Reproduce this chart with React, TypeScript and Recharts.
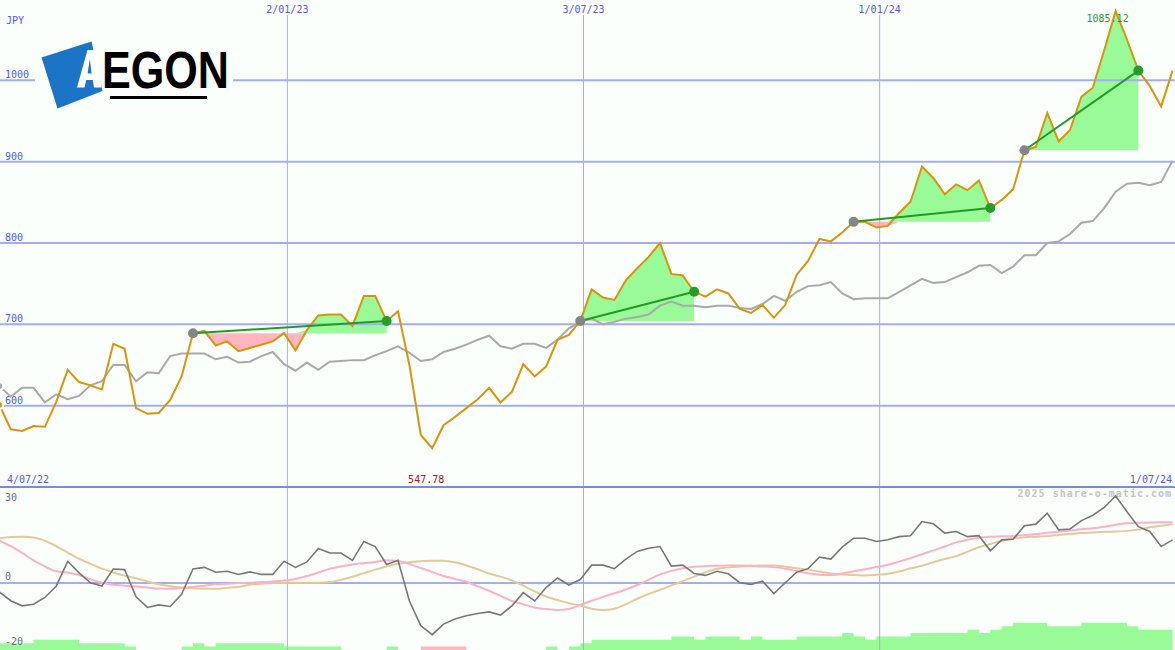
import { ComposedChart, Line, Area, XAxis, YAxis, ReferenceLine, ReferenceDot } from 'recharts';

const W = 1175;
const TOP_H = 487;
const LOW_H = 163;
const BG = '#fbfffb';
const GRID = '#a4acf2';
const LABEL = '#5656f5';
const FONT = '"DejaVu Sans Mono", monospace';

// weekly close, JPY
const PRICE = [
  601, 571, 569, 575, 574, 605, 644, 629, 625, 620,
  676, 670, 597, 590, 591, 607, 636, 689, 692, 674,
  679, 667, 671, 675, 679, 689, 668, 693, 711, 712,
  712, 698, 735, 735, 704, 716, 650, 564, 547.78, 576,
  586, 597, 608, 622, 604, 617, 651, 636, 648, 681,
  687, 704, 743, 733, 730, 754, 769, 783, 800, 762,
  760, 740, 734, 743, 738, 719, 714, 724, 708, 724,
  761, 778, 805, 802, 813, 826, 826, 819, 821, 837,
  851, 894, 880, 860, 872, 865, 877, 843, 853, 866,
  914, 918, 960, 925, 939, 980, 991, 1037, 1085.12, 1050,
  1012, 993, 968, 1012,
];

// market index, rebased to the share price
const BENCH = [
  624, 611, 622, 622, 604, 614, 608, 612, 625, 630,
  650, 650, 630, 641, 640, 661, 664, 664, 664, 657,
  660, 653, 654, 661, 666, 651, 643, 653, 644, 654,
  655, 656, 656, 662, 667, 673, 665, 655, 657, 666,
  670, 675, 681, 686, 673, 670, 676, 676, 671, 681,
  695, 703, 707, 700, 703, 707, 709, 712, 723, 728,
  723, 723, 721, 723, 723, 720, 719, 725, 735, 729,
  740, 747, 748, 752, 738, 731, 732, 732, 732, 740,
  748, 756, 751, 752, 758, 764, 772, 773, 763, 771,
  785, 785, 800, 802, 811, 825, 827, 843, 863, 873,
  874, 871, 875, 901,
];

const MOMENTUM = [
  -2.8, -5.5, -7.1, -6.6, -4.5, -0.9, 6.8, 3.2, 0.1, -0.9,
  4.4, 4.2, -4.3, -7.6, -6.8, -7.3, -3.5, 4.4, 4.9, 3.4,
  3.7, 2.7, 3.5, 2.7, 2.7, 6.8, 4.9, 6.6, 10.8, 9.4,
  9.4, 7.1, 13, 11.4, 5.8, 7.1, -5.6, -13.3, -16.1, -12.8,
  -11.2, -10.2, -9.5, -9, -10, -7.1, -3, -5.6, -1.4, 1.6,
  -0.6, 1.1, 5.6, 5.6, 4.5, 7.5, 9.9, 10.9, 11.4, 5.3,
  5.6, 3, 2.4, 3.7, 2.9, 0.1, -0.4, 0.6, -3.3, 0.1,
  3.4, 4.5, 8.1, 7.5, 11.2, 14, 14, 13, 13.5, 14.5,
  14.8, 19.2, 18.5, 15.6, 16.1, 14.5, 14.8, 10.1, 13.5, 13.7,
  17.9, 18.4, 21.8, 16.6, 16.9, 19.5, 21.2, 23.6, 27.2, 22.3,
  17.6, 16.1, 11.4, 13.5,
];

const AVG_FAST = [
  13.3, 11.5, 9.4, 7.1, 5.2, 3.7, 3.3, 2.5, 1.2, 0.1,
  -0.5, -0.8, -1.1, -1.4, -1.7, -1.8, -1.5, -1.2, -0.8, -0.4,
  -0.2, 0, 0.1, 0.3, 0.5, 0.8, 1.3, 2.2, 3.3, 4.5,
  5.2, 5.8, 6.2, 6.6, 7.1, 6.9, 6, 4.7, 3.5, 2.2,
  1.3, 0.4, -1, -2.4, -4, -5.6, -6.6, -7.6, -8.1, -8.4,
  -8.1, -6.8, -5.5, -4.3, -3.2, -2, -0.6, 1, 2.7, 3.8,
  4.6, 5.1, 5.3, 5.4, 5.5, 5.5, 5.4, 5.2, 5, 4.5,
  3.8, 3.1, 2.6, 2.5, 3, 3.7, 4.3, 5, 5.7, 6.7,
  7.8, 9, 10.2, 11.4, 12.7, 13.5, 14.2, 14.5, 14.6, 14.7,
  15, 15.3, 15.7, 16, 16.4, 16.8, 17.1, 17.6, 18.2, 18.7,
  18.8, 18.9, 19, 19,
];

const AVG_SLOW = [
  14, 14.4, 14.5, 14.2, 13.2, 11.5, 9.5, 7.6, 6, 4.5,
  3.3, 2.3, 1.5, 0.5, -0.4, -1, -1.4, -1.6, -1.8, -1.8,
  -1.5, -1.2, -0.5, -0.2, 0, 0.1, 0.1, 0.1, 0.1, 0.3,
  1, 2, 3.1, 4.2, 5.2, 6, 6.5, 6.8, 7, 7,
  6.5, 5.5, 4.3, 3, 2, 0.8, -0.8, -2.6, -4.2, -5.3,
  -6.3, -7, -8, -8.4, -8, -6.6, -4.9, -3.4, -2.1, -0.7,
  0.6, 2, 3.4, 4.5, 4.9, 5.2, 5.4, 5.5, 5.5, 5.1,
  4.6, 4.2, 3.6, 3, 2.7, 2.5, 2.4, 2.6, 2.9, 3.6,
  4.6, 5.4, 6.5, 7.5, 8.4, 9.8, 11.2, 12.2, 13.2, 14,
  14.3, 14.5, 14.7, 15, 15.3, 15.6, 15.8, 16, 16.1, 16.3,
  16.7, 17.4, 17.9, 18.4,
];

const STRENGTH_UP = [
  2, 2, 2, 3, 3, 3, 3, 2, 2, 2,
  2, 1, 0, 0, 0, 0, 1, 2, 1, 2,
  2, 2, 2, 2, 2, 1, 1, 1, 1, 1,
  0, 0, 0, 0, 1, 0, 0, 0, 0, 0,
  0, 0, 0, 0, 0, 0, 0, 0, 1, 0,
  1, 2, 3, 3, 3, 3, 3, 3, 3, 4,
  4, 3, 4, 4, 4, 3, 4, 3, 3, 3,
  4, 4, 4, 4, 5, 4, 3, 4, 4, 4,
  5, 5, 5, 5, 5, 6, 5, 6, 7, 8,
  8, 8, 7, 7, 7, 8, 8, 8, 8, 7,
  6, 6, 6, 6,
];

const STRENGTH_DOWN = [
  0, 0, 0, 0, 0, 0, 0, 0, 0, 0,
  0, 0, 0, 0, 0, 0, 0, 0, 0, 0,
  0, 0, 0, 0, 0, 0, 0, 0, 0, 0,
  0, 0, 0, 0, 0, 0, 0, 1, 1, 1,
  1, 0, 0, 0, 0, 0, 0, 0, 0, 0,
  0, 0, 0, 0, 0, 0, 0, 0, 0, 0,
  0, 0, 0, 0, 0, 0, 0, 0, 0, 0,
  0, 0, 0, 0, 0, 0, 0, 0, 0, 0,
  0, 0, 0, 0, 0, 0, 0, 0, 0, 0,
  0, 0, 0, 0, 0, 0, 0, 0, 0, 0,
  0, 0, 0, 0,
];

const PRICE_TICKS = [600, 700, 800, 900, 1000];

// days after 4/07/22
const DATE_LINES = [
  { day: 182, label: '2/01/23' },
  { day: 364, label: '3/07/23' },
  { day: 546, label: '1/01/24' },
];

// week indexes of the trend segments
const TRENDS = [
  { from: 17, to: 34 },
  { from: 51, to: 61 },
  { from: 75, to: 87 },
  { from: 90, to: 100 },
];

const FIRST_DAY = 5;
const DAYS = PRICE.map((_, i) => FIRST_DAY + 7 * i);
const X_DOMAIN: [number, number] = [5.4, 727.5];
const Y_TOP: [number, number] = [500, 1098.8];
const Y_LOW: [number, number] = [-20.9, 30];

const topRows = DAYS.map((day, i) => ({ day, price: PRICE[i], bench: BENCH[i] }));
const lowRows = DAYS.map((day, i) => ({
  day,
  mom: MOMENTUM[i],
  fast: AVG_FAST[i],
  slow: AVG_SLOW[i],
  up: STRENGTH_UP[i],
  down: STRENGTH_DOWN[i],
}));

const trendFills = TRENDS.map(({ from, to }) => {
  const base = PRICE[from];
  return DAYS.slice(from, to + 1).map((day, k) => {
    const p = PRICE[from + k];
    return { day, up: [base, Math.max(p, base)], down: [Math.min(p, base), base] };
  });
});

const maxIdx = PRICE.indexOf(Math.max(...PRICE));
const minIdx = PRICE.indexOf(Math.min(...PRICE));

const textStyle = { fontFamily: FONT, fontSize: 10 };

function priceLabel(props: any, v: number) {
  const { x, y } = props.viewBox;
  return (
    <text x={x + 5} y={y - 2} fill={LABEL} style={textStyle}>
      {v}
    </text>
  );
}

function dateLabel(props: any, label: string) {
  const { x } = props.viewBox;
  return (
    <g>
      <rect x={x - 24} y={0} width={48} height={15} fill={BG} />
      <text x={x} y={13} fill={LABEL} textAnchor="middle" style={textStyle}>
        {label}
      </text>
    </g>
  );
}

const dotShape = (color: string) => (p: any) => (
  <circle cx={p.cx} cy={p.cy} r={5} fill={color} fillOpacity={1} stroke="none" />
);

function Logo() {
  return (
    <svg
      width={W}
      height={650}
      style={{ position: 'absolute', left: 0, top: 0, zIndex: 3, pointerEvents: 'none' }}
    >
      <rect x={35} y={36} width={198} height={80} fill={BG} />
      <polygon points="41.5,57.5 91.5,41.5 102.5,91 57.5,108.5" fill="#1b74c5" />
      <path
        d="M77,87.5 L87.5,50 L96,50 L101.5,87.5 L94,87.5 L92.8,80 L86.2,80 L84.6,87.5 Z M87.6,73.5 L91.6,73.5 L89.8,59 Z"
        fill="#ffffff"
        fillRule="evenodd"
      />
      <text
        x={102}
        y={87.5}
        fill="#000000"
        fontFamily="'Liberation Sans', Arial, sans-serif"
        fontWeight="bold"
        fontSize={51}
        textLength={127}
        lengthAdjust="spacingAndGlyphs"
      >
        EGON
      </text>
      <rect x={110} y={96} width={97} height={3} fill="#000000" />
      <text x={5} y={501} fill="#707070" style={textStyle}>30</text>
      <text x={5} y={645} fill="#707070" style={textStyle}>-20</text>
    </svg>
  );
}

function BackTexts() {
  return (
    <svg width={W} height={650} style={{ position: 'absolute', left: 0, top: 0, zIndex: 0 }}>
      <text x={6} y={24} fill={LABEL} style={textStyle}>JPY</text>
      <text x={7} y={483} fill={LABEL} style={textStyle}>4/07/22</text>
      <text x={1172} y={483} fill={LABEL} textAnchor="end" style={textStyle}>1/07/24</text>
      <text
        x={1172}
        y={497}
        fill="#c4c4c4"
        textAnchor="end"
        style={{ fontFamily: FONT, fontSize: 10, letterSpacing: 1, fontWeight: 'bold' }}
      >
        2025 share-o-matic.com
      </text>
    </svg>
  );
}

export default function App() {
  const margin = { top: 0, right: 0, bottom: 0, left: 0 };
  return (
    <div style={{ position: 'absolute', left: 0, top: 0, width: W, height: 650, background: BG, overflow: 'hidden' }}>
      <BackTexts />
      <div style={{ position: 'absolute', left: 0, top: 0, zIndex: 1 }}>
        <ComposedChart width={W} height={TOP_H} data={topRows} margin={margin}>
          <XAxis type="number" dataKey="day" domain={X_DOMAIN} allowDataOverflow hide />
          <YAxis type="number" domain={Y_TOP} allowDataOverflow hide />
          {PRICE_TICKS.map((v) => (
            <ReferenceLine key={v} y={v} stroke={GRID} strokeWidth={2} label={(p: any) => priceLabel(p, v)} />
          ))}
          {DATE_LINES.map((d) => (
            <ReferenceLine key={d.label} x={d.day} stroke={GRID} strokeWidth={1} label={(p: any) => dateLabel(p, d.label)} />
          ))}
          <ReferenceDot
            x={DAYS[maxIdx]}
            y={PRICE[maxIdx]}
            r={0}
            ifOverflow="visible"
            shape={(p: any) => (
              <text x={p.cx - 8} y={p.cy + 11} fill="#2a9a2a" textAnchor="middle" style={textStyle}>
                {PRICE[maxIdx].toFixed(2)}
              </text>
            )}
          />
          <ReferenceDot
            x={DAYS[minIdx]}
            y={Y_TOP[0]}
            r={0}
            ifOverflow="visible"
            shape={(p: any) => (
              <text x={p.cx - 6} y={p.cy - 4} fill="#a01818" textAnchor="middle" style={textStyle}>
                {PRICE[minIdx].toFixed(2)}
              </text>
            )}
          />
          {trendFills.map((rows, k) => (
            <Area
              key={`up${k}`}
              data={rows}
              dataKey="up"
              type="linear"
              stroke="none"
              fill="#98fb98"
              fillOpacity={1}
              dot={false}
              activeDot={false}
              isAnimationActive={false}
            />
          ))}
          {trendFills.map((rows, k) => (
            <Area
              key={`dn${k}`}
              data={rows}
              dataKey="down"
              type="linear"
              stroke="none"
              fill="#ffb6c1"
              fillOpacity={1}
              dot={false}
              activeDot={false}
              isAnimationActive={false}
            />
          ))}
          <Line dataKey="bench" type="linear" stroke="#a9a9a9" strokeWidth={2} dot={false} isAnimationActive={false} />
          <Line dataKey="price" type="linear" stroke="#d9940c" strokeWidth={2} dot={false} isAnimationActive={false} />
          {TRENDS.map(({ from, to }) => (
            <ReferenceLine
              key={`tl${from}`}
              segment={[
                { x: DAYS[from], y: PRICE[from] },
                { x: DAYS[to], y: PRICE[to] },
              ]}
              stroke="#249a24"
              strokeWidth={2}
            />
          ))}
          {TRENDS.map(({ from }) => (
            <ReferenceDot key={`s${from}`} x={DAYS[from]} y={PRICE[from]} r={5} shape={dotShape('#858585')} />
          ))}
          {TRENDS.map(({ to }) => (
            <ReferenceDot key={`e${to}`} x={DAYS[to]} y={PRICE[to]} r={5} shape={dotShape('#2a9a2a')} />
          ))}
        </ComposedChart>
      </div>
      <div style={{ position: 'absolute', left: 0, top: TOP_H, zIndex: 1 }}>
        <ComposedChart width={W} height={LOW_H} data={lowRows} margin={margin}>
          <XAxis type="number" dataKey="day" domain={X_DOMAIN} allowDataOverflow hide />
          <YAxis yAxisId="v" type="number" domain={Y_LOW} allowDataOverflow hide />
          <YAxis yAxisId="bar" type="number" domain={[0, 48]} allowDataOverflow hide />
          <ReferenceLine
            yAxisId="v"
            y={0}
            stroke={GRID}
            strokeWidth={2}
            label={(p: any) => (
              <text x={p.viewBox.x + 5} y={p.viewBox.y - 3} fill="#707070" style={textStyle}>0</text>
            )}
          />
          {DATE_LINES.map((d) => (
            <ReferenceLine key={d.label} yAxisId="v" x={d.day} stroke={GRID} strokeWidth={1} />
          ))}
          <Area yAxisId="bar" dataKey="up" type="stepAfter" stroke="none" fill="#98fb98" fillOpacity={1} isAnimationActive={false} />
          <Area yAxisId="bar" dataKey="down" type="stepAfter" stroke="none" fill="#ffb6c1" fillOpacity={1} isAnimationActive={false} />
          <Line yAxisId="v" dataKey="slow" type="monotone" stroke="#e6c998" strokeWidth={2} dot={false} isAnimationActive={false} />
          <Line yAxisId="v" dataKey="fast" type="monotone" stroke="#ffb0c8" strokeWidth={2} dot={false} isAnimationActive={false} />
          <Line yAxisId="v" dataKey="mom" type="linear" stroke="#777777" strokeWidth={1.6} dot={false} isAnimationActive={false} />
        </ComposedChart>
      </div>
      <div style={{ position: 'absolute', left: 0, top: TOP_H - 1, width: W, height: 2, background: '#7888ec', zIndex: 2 }} />
      <Logo />
    </div>
  );
}
